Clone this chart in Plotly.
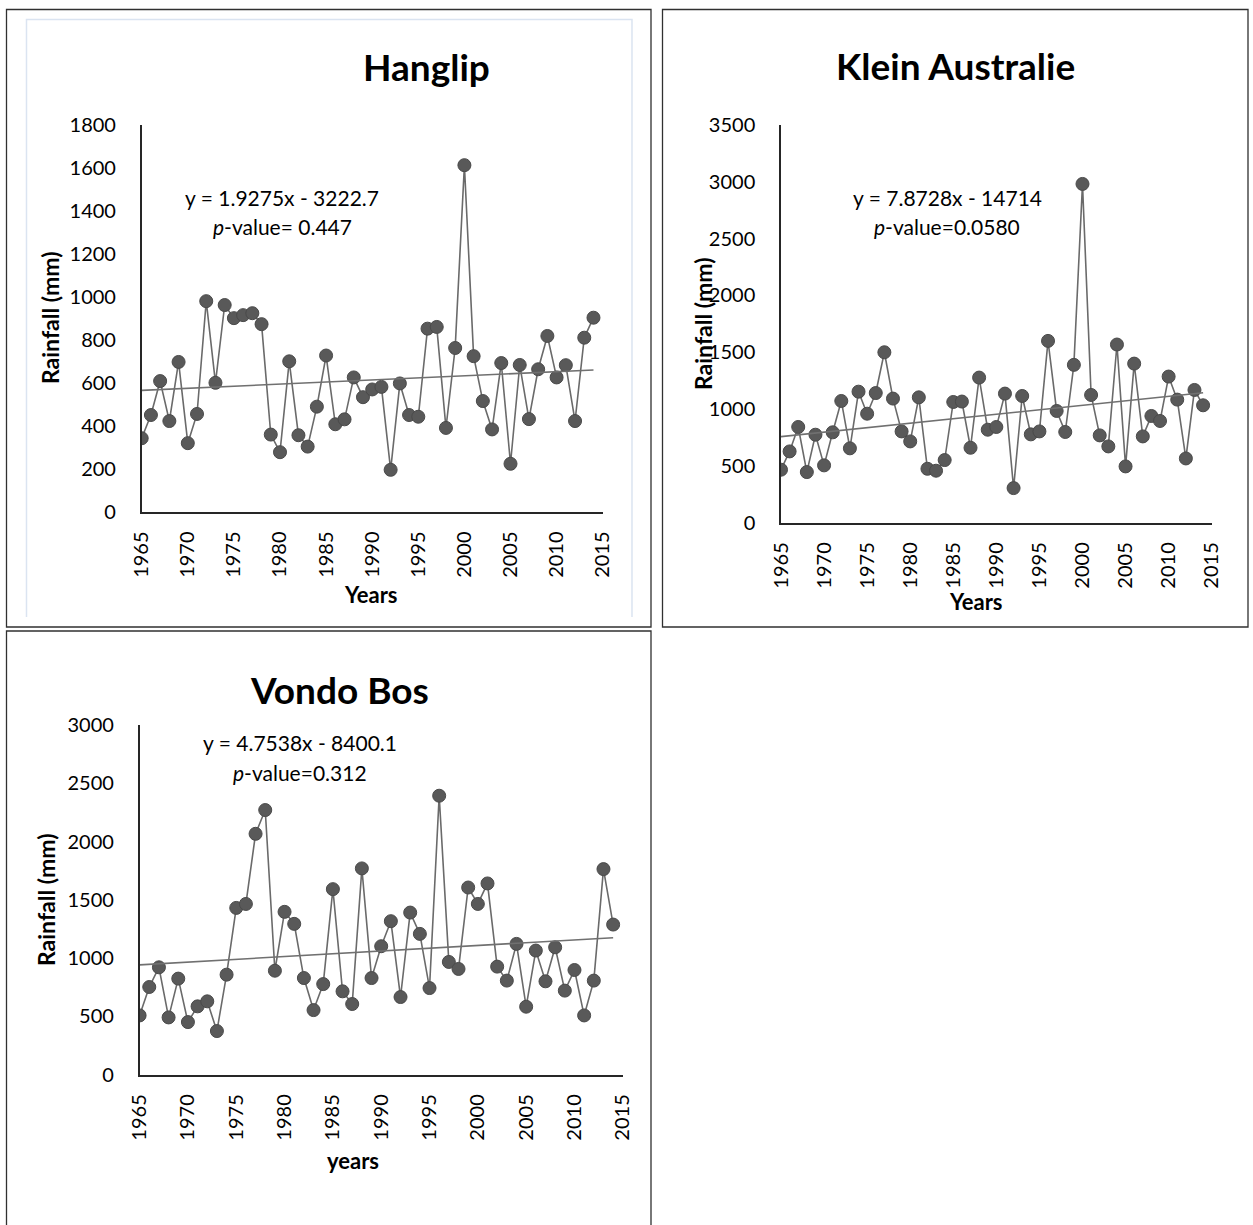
import plotly.graph_objects as go

W, H = 1253, 1225

years = list(range(1965, 2015))

hanglip = [342, 450, 608, 422, 697, 319, 455, 980, 600, 962,
           901, 915, 924, 873, 359, 277, 700, 356, 303, 489,
           727, 407, 430, 625, 533, 569, 581, 195, 597, 450,
           442, 852, 860, 390, 762, 1613, 724, 515, 383, 692,
           223, 683, 431, 663, 818, 625, 682, 422, 810, 903]

klein = [465, 626, 841, 444, 773, 503, 794, 1070, 653, 1152,
         958, 1140, 1499, 1091, 802, 714, 1102, 473, 456, 550,
         1061, 1065, 658, 1276, 817, 841, 1135, 303, 1114, 776,
         802, 1599, 982, 797, 1388, 2981, 1123, 767, 670, 1567,
         494, 1399, 758, 938, 894, 1285, 1082, 564, 1167, 1032]

vondo = [507, 751, 920, 490, 823, 450, 585, 628, 373, 857,
         1430, 1464, 2066, 2270, 891, 1396, 1293, 828, 553, 776,
         1591, 714, 605, 1769, 828, 1101, 1316, 665, 1390, 1207,
         742, 2393, 966, 906, 1605, 1464, 1640, 926, 806, 1121,
         582, 1064, 800, 1092, 720, 897, 507, 806, 1763, 1287]

titles = ["Hanglip", "Klein Australie", "Vondo Bos"]
slopes = [1.9275, 7.8728, 4.7538]
intercepts = [-3222.7, -14714, -8400.1]
eq_text = ["y = 1.9275x - 3222.7", "y = 7.8728x - 14714", "y = 4.7538x - 8400.1"]
p_text = ["<i>p</i>-value= 0.447", "<i>p</i>-value=0.0580", "<i>p</i>-value=0.312"]
xlabels = ["Years", "Years", "years"]
ylabel = "Rainfall (mm)"
yranges = [(0, 1800, 200), (0, 3500, 500), (0, 3000, 500)]
xticks = list(range(1965, 2016, 5))

series = [hanglip, klein, vondo]

FONT = "Lato"
MARK = "#595959"
LINE = "#6a6a6a"


def px(x):
    return x / W


def py(y):
    return 1 - y / H


# plot areas in pixels: (left, right, top, bottom)
areas = [(141.7, 602.7, 125, 511.7),
         (781.0, 1211.7, 125, 522.5),
         (139.6, 622.8, 725, 1074.5)]

fig = go.Figure()

for i, (vals, sl, ic) in enumerate(zip(series, slopes, intercepts)):
    ax = "" if i == 0 else str(i + 1)
    fig.add_trace(go.Scatter(
        x=years, y=vals, mode="lines+markers",
        line=dict(color=LINE, width=1.6),
        marker=dict(size=13, color=MARK, line=dict(color="#4a4a4a", width=1)),
        xaxis="x" + ax, yaxis="y" + ax, showlegend=False, hoverinfo="skip"))
    tx = [years[0], years[-1]]
    ty = [sl * t + ic for t in tx]
    fig.add_trace(go.Scatter(
        x=tx, y=ty, mode="lines", line=dict(color="#707070", width=1.6),
        xaxis="x" + ax, yaxis="y" + ax, showlegend=False, hoverinfo="skip"))

layout = dict(
    width=W, height=H, margin=dict(l=0, r=0, t=0, b=0, pad=0, autoexpand=False),
    paper_bgcolor="white", plot_bgcolor="white",
    font=dict(family=FONT, color="#000000", size=20),
)

for i, (l, r, t, b) in enumerate(areas):
    ax = "" if i == 0 else str(i + 1)
    lo, hi, step = yranges[i]
    layout["xaxis" + ax] = dict(
        domain=[px(l), px(r)], range=[1965, 2015], anchor="y" + ax,
        tickvals=xticks, ticktext=[str(v) for v in xticks], tickangle=-90,
        showgrid=False, zeroline=False, showline=True, linecolor="#262626",
        linewidth=1.5, ticks="", ticklabelstandoff=10,
        tickfont=dict(family=FONT, size=20, color="#000000"), fixedrange=True)
    layout["yaxis" + ax] = dict(
        domain=[py(b), py(t)], range=[lo, hi], anchor="x" + ax,
        tickvals=list(range(lo, hi + 1, step)), showgrid=False, zeroline=False,
        showline=True, linecolor="#262626", linewidth=1.5, ticks="",
        ticklabelstandoff=20,
        tickfont=dict(family=FONT, size=20, color="#000000"), fixedrange=True)

fig.update_layout(**layout)

# titles, equations and axis titles (pixel centres)
title_pos = [(426, 67), (955, 66), (339, 689)]
eq_pos = [(282, 197), (947, 197), (300, 743)]
p_pos = [(282, 226), (947, 226), (300, 772)]
xlab_pos = [(371, 594), (976, 601), (353, 1160)]
ylab_pos = [(50, 318), (703, 324), (46, 900)]

ann = []
for i in range(3):
    ann.append(dict(x=px(title_pos[i][0]), y=py(title_pos[i][1]), xref="paper", yref="paper",
                    text="<b>%s</b>" % titles[i], showarrow=False,
                    font=dict(family=FONT, size=37, color="#000000"),
                    xanchor="center", yanchor="middle"))
    ann.append(dict(x=px(eq_pos[i][0]), y=py(eq_pos[i][1]), xref="paper", yref="paper",
                    text=eq_text[i], showarrow=False,
                    font=dict(family=FONT, size=21, color="#000000"),
                    xanchor="center", yanchor="middle"))
    ann.append(dict(x=px(p_pos[i][0]), y=py(p_pos[i][1]), xref="paper", yref="paper",
                    text=p_text[i], showarrow=False,
                    font=dict(family=FONT, size=21, color="#000000"),
                    xanchor="center", yanchor="middle"))
    ann.append(dict(x=px(xlab_pos[i][0]), y=py(xlab_pos[i][1]), xref="paper", yref="paper",
                    text="<b>%s</b>" % xlabels[i], showarrow=False,
                    font=dict(family=FONT, size=22, color="#000000"),
                    xanchor="center", yanchor="middle"))
    ann.append(dict(x=px(ylab_pos[i][0]), y=py(ylab_pos[i][1]), xref="paper", yref="paper",
                    text="<b>%s</b>" % ylabel, showarrow=False, textangle=-90,
                    font=dict(family=FONT, size=23, color="#000000"),
                    xanchor="center", yanchor="middle"))


def path_open(x0, y0, x1, y1):
    return "M %f %f L %f %f L %f %f L %f %f" % (px(x0), py(y1), px(x0), py(y0),
                                               px(x1), py(y0), px(x1), py(y1))


shapes = [
    dict(type="rect", xref="paper", yref="paper", x0=px(6.5), x1=px(651), y0=py(627), y1=py(9.5),
         line=dict(color="#303030", width=1.3)),
    dict(type="rect", xref="paper", yref="paper", x0=px(662.5), x1=px(1248), y0=py(627), y1=py(9.5),
         line=dict(color="#303030", width=1.3)),
    dict(type="path", xref="paper", yref="paper", path=path_open(6.5, 631, 651, 1225),
         line=dict(color="#303030", width=1.3)),
    dict(type="path", xref="paper", yref="paper", path=path_open(26.5, 19.5, 632, 617),
         line=dict(color="#dbe4f1", width=1.5)),
]

fig.update_layout(annotations=ann, shapes=shapes)

post = ("document.body.style.margin='0';document.body.style.padding='0';"
        "document.documentElement.style.overflow='hidden';")
fig.write_html("out.html", post_script=post, config={"displayModeBar": False})
